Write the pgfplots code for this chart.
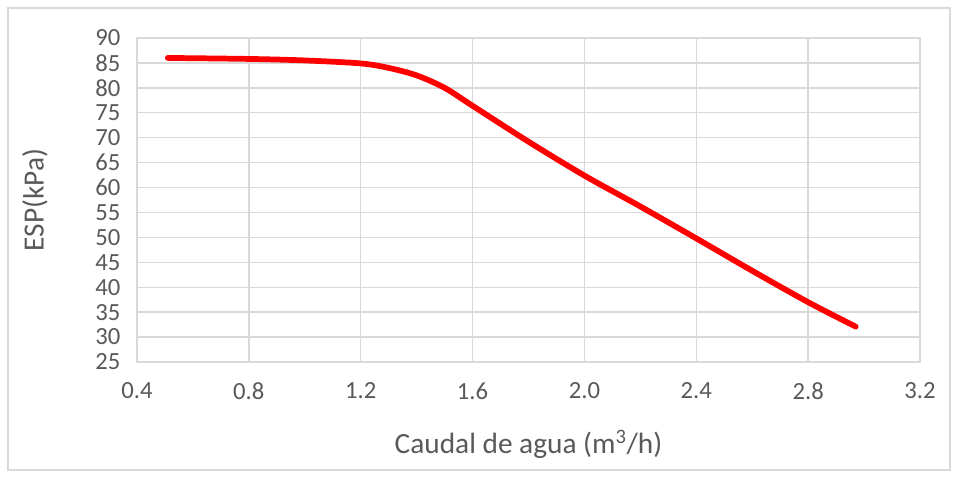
\documentclass[border=0pt]{standalone}
\usepackage{pgfplots}
\pgfplotsset{compat=1.18}
\usepackage{fontspec}
\setmainfont{Carlito}
\definecolor{txt}{RGB}{89,89,89}
\definecolor{grd}{RGB}{217,217,217}
\begin{document}
\begin{tikzpicture}
\useasboundingbox (-102.75pt,-86.25pt) rectangle (615pt,271.5pt);
\draw[grd, line width=1pt] (-96.75pt,-81pt) rectangle (609.75pt,265.5pt);
\begin{axis}[
  at={(0pt,0pt)}, anchor=origin,
  scale only axis, width=587.25pt, height=243pt,
  xmin=0.4, xmax=3.2, ymin=25, ymax=90,
  xtick={0.4,0.8,...,3.2}, ytick={25,30,...,90},
  xticklabel style={/pgf/number format/fixed, /pgf/number format/fixed zerofill, /pgf/number format/precision=1, yshift=-12pt},
  /pgf/number format/assume math mode=true,
  tick style={draw=none},
  grid=major, major grid style={grd, line width=1pt},
  axis line style={grd, line width=1pt},
  ticklabel style={font=\fontsize{18.5}{18.5}\selectfont, text=txt},
  yticklabel style={xshift=-9pt},
  xlabel={Caudal de agua (m\textsuperscript{3}/h)},
  ylabel={ESP(kPa)},
  label style={font=\fontsize{22}{22}\selectfont, text=txt},
  xlabel style={at={(axis description cs:0.5,0)}, anchor=center, yshift=-62pt},
  ylabel style={at={(axis description cs:-0.1303,0.5)}, anchor=center},
]
\addplot[red, line width=4.3pt, smooth, line cap=round, line join=round] coordinates {
  (0.51,86.0) (0.8,85.8) (1.0,85.5) (1.2,84.9) (1.3,84.0) (1.4,82.5) (1.5,80.0) (1.6,76.4)
  (1.8,69.2) (2.0,62.4) (2.2,56.2) (2.4,49.8) (2.6,43.3) (2.8,37.0) (2.97,32.1)
};
\end{axis}
\end{tikzpicture}
\end{document}
